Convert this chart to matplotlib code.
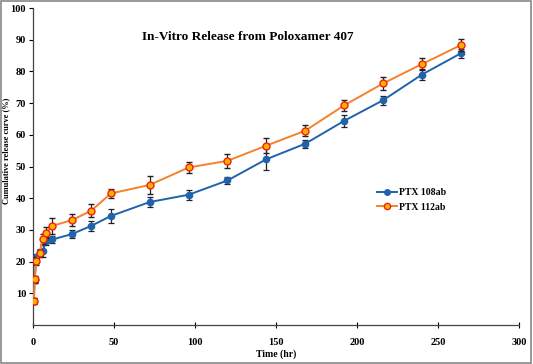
import matplotlib
matplotlib.use('Agg')
import matplotlib.pyplot as plt
from matplotlib.patches import Rectangle
from matplotlib.lines import Line2D

plt.rcParams['font.family'] = ['Liberation Serif', 'DejaVu Serif']
plt.rcParams['font.weight'] = 'bold'

# 数据
time_hr = [0.5, 1, 2, 4, 6, 8, 12, 24, 36, 48, 72, 96, 120, 144, 168, 192, 216, 240, 264]
ptx_108ab = [7.5, 14.2, 21.4, 22.9, 23.3, 26.6, 27.0, 28.7, 31.3, 34.4, 38.8, 41.1, 45.6,
             52.3, 57.2, 64.4, 70.9, 79.0, 85.7]
ptx_108ab_err = [1.0, 1.0, 1.0, 1.2, 1.8, 1.2, 1.2, 1.2, 1.5, 2.3, 1.5, 1.5, 1.2,
                 3.5, 1.2, 1.8, 1.5, 1.8, 1.5]
ptx_112ab = [7.6, 14.4, 20.2, 22.6, 27.2, 29.1, 31.3, 33.1, 36.1, 41.5, 44.2, 49.7, 51.8,
             56.6, 61.3, 69.3, 76.2, 82.3, 88.3]
ptx_112ab_err = [1.0, 1.2, 1.2, 1.0, 1.5, 1.8, 2.5, 2.0, 2.0, 1.5, 2.8, 1.8, 2.2,
                 2.4, 1.8, 1.8, 2.0, 1.8, 1.8]

x_ticks = [0, 50, 100, 150, 200, 250, 300]
y_ticks = [10, 20, 30, 40, 50, 60, 70, 80, 90, 100]

blue = '#1F63AC'
orange = '#F5812A'

fig = plt.figure(figsize=(5.33, 3.64), dpi=100)
ax = fig.add_axes([0.062, 0.107, 0.912, 0.871])

# 蓝色曲线
ax.errorbar(time_hr, ptx_108ab, yerr=ptx_108ab_err, color=blue, linewidth=1.4,
            marker='o', markersize=4.5, markerfacecolor=blue, markeredgecolor=blue,
            ecolor='#222222', elinewidth=0.9, capsize=2, capthick=0.9, zorder=3)
# 橙色曲线
ax.errorbar(time_hr, ptx_112ab, yerr=ptx_112ab_err, color=orange, linewidth=1.4,
            marker='o', markersize=5, markerfacecolor='#FFB000', markeredgecolor='#F02010',
            markeredgewidth=1.0, ecolor='#222222', elinewidth=0.9, capsize=2, capthick=0.9,
            zorder=4)

ax.set_xlim(0, 300)
ax.set_ylim(0, 100)
ax.set_xticks(x_ticks)
ax.set_yticks(y_ticks)
ax.tick_params(axis='x', direction='inout', length=4, width=0.8, labelsize=7.5, pad=7)
ax.tick_params(axis='y', direction='out', length=3, width=0.8, labelsize=7.5, pad=2)
for lbl in ax.get_xticklabels() + ax.get_yticklabels():
    lbl.set_fontweight('bold')

for side in ['top', 'right']:
    ax.spines[side].set_visible(False)
for side in ['left', 'bottom']:
    ax.spines[side].set_color('#444444')
    ax.spines[side].set_linewidth(0.9)

ax.set_xlabel('Time (hr)', fontsize=7, fontweight='bold', labelpad=2)
ax.set_ylabel('Cumulative release curve (%)', fontsize=6, fontweight='bold')
ax.yaxis.set_label_coords(-0.047, 0.55)

fig.text(0.465, 0.898, 'In-Vitro Release from Poloxamer 407', fontsize=9.5,
         fontweight='bold', ha='center', va='center')

# 图例 (只显示线和标记)
handles = [
    Line2D([], [], color=blue, linewidth=1.4, marker='o', markersize=4,
           markerfacecolor=blue, markeredgecolor=blue),
    Line2D([], [], color=orange, linewidth=1.4, marker='o', markersize=4.5,
           markerfacecolor='#FFB000', markeredgecolor='#F02010'),
]
leg = ax.legend(handles, ['PTX 108ab', 'PTX 112ab'], loc='upper left',
                bbox_to_anchor=(0.69, 0.46), frameon=False,
                fontsize=7, handlelength=2.0, handletextpad=0.2, labelspacing=0.6)
for t in leg.get_texts():
    t.set_fontweight('bold')

# 外框
fig.patches.append(Rectangle((0.002, 0.003), 0.995, 0.993, transform=fig.transFigure,
                             fill=False, edgecolor='#888888', linewidth=1.2))

fig.savefig('out.png', dpi=100)
